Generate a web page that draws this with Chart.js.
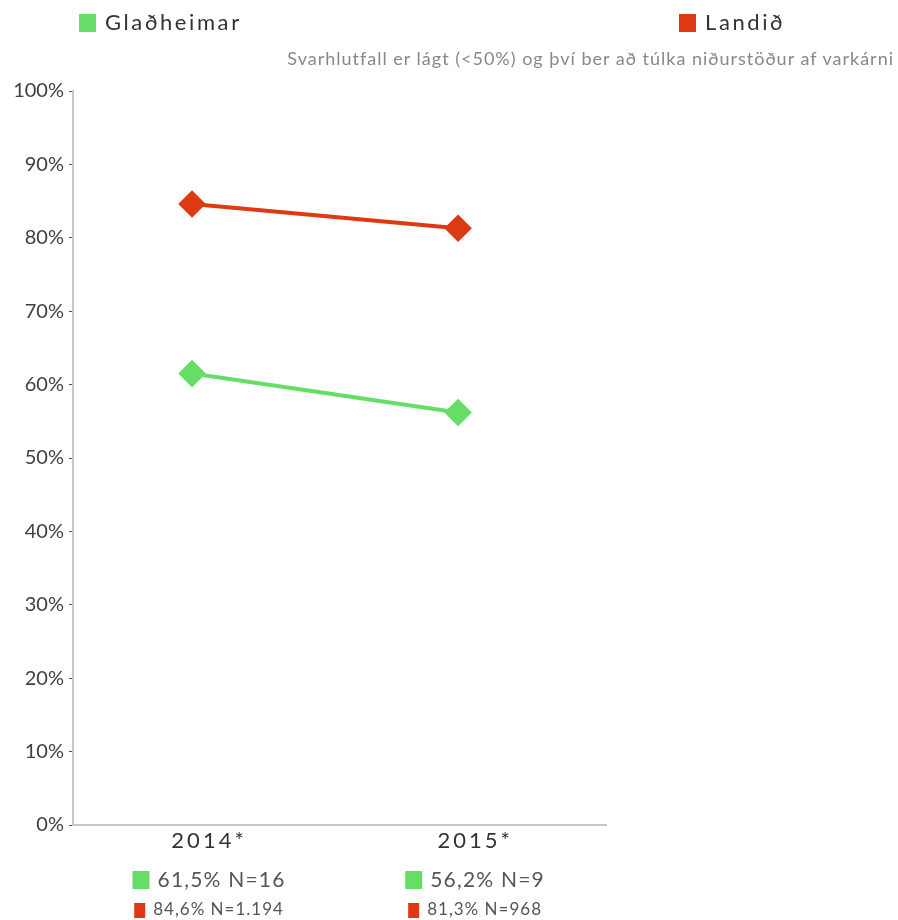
<!DOCTYPE html>
<html>
<head>
<meta charset="utf-8">
<script src="https://cdn.jsdelivr.net/npm/chart.js@4.4.0/dist/chart.umd.min.js"></script>
<style>
  body { margin: 0; background: #fff; font-family: Lato, sans-serif; }
  #wrap { position: relative; width: 898px; height: 920px; }
  .leg { position: absolute; top: 8px; font-size: 22px; color: #333; letter-spacing: 2.6px; line-height: 28px; }
  .leg span { display: inline-block; width: 17px; height: 18px; margin-right: 9px; vertical-align: -2px; }
  #note { position: absolute; top: 47px; right: 4px; font-size: 18px; letter-spacing: 1px; color: #888; white-space: nowrap; }
</style>
</head>
<body>
<div id="wrap">
  <canvas id="chart"></canvas>
  <div class="leg" style="left:79px"><span style="background:#66dd66"></span>Glaðheimar</div>
  <div class="leg" style="left:679px"><span style="background:#dd3a13"></span>Landið</div>
  <div id="note">Svarhlutfall er lágt (&lt;50%) og því ber að túlka niðurstöður af varkárni</div>
</div>
<script>
// data
const years = ['2014*', '2015*'];
const gladheimar = [61.5, 56.2];
const landid = [84.6, 81.3];
const nGladheimar = ['16', '9'];
const nLandid = ['1.194', '968'];
const yTicks = [0, 10, 20, 30, 40, 50, 60, 70, 80, 90, 100];

const green = '#66dd66';
const red = '#dd3a13';

const fmt = (v, n) => v.toFixed(1).replace('.', ',') + '% N=' + n;

// year labels + summary lines under each year
const summaryPlugin = {
  id: 'summary',
  afterDraw(chart) {
    const ctx = chart.ctx;
    const xs = chart.scales.x;
    ctx.save();
    ctx.textBaseline = 'middle';
    years.forEach((y, i) => {
      const cx = xs.getPixelForValue(i) + 17;
      // year
      ctx.textAlign = 'center';
      ctx.font = '22px Lato';
      ctx.letterSpacing = '3px';
      ctx.fillStyle = '#333';
      ctx.fillText(y, cx, 841);
      ctx.textAlign = 'left';
      // green row
      ctx.font = '21px Lato';
      ctx.letterSpacing = '1.2px';
      let t = fmt(gladheimar[i], nGladheimar[i]);
      let w = 17 + 8 + ctx.measureText(t).width;
      let x0 = cx - w / 2;
      ctx.fillStyle = green;
      ctx.fillRect(x0, 871, 17, 18);
      ctx.fillStyle = '#555';
      ctx.fillText(t, x0 + 25, 880);
      // red row
      ctx.font = '17px Lato';
      ctx.letterSpacing = '1px';
      t = fmt(landid[i], nLandid[i]);
      w = 11 + 8 + ctx.measureText(t).width;
      x0 = cx - w / 2;
      ctx.fillStyle = red;
      ctx.fillRect(x0, 903, 11, 15);
      ctx.fillStyle = '#555';
      ctx.fillText(t, x0 + 19, 910);
    });
    ctx.restore();
  }
};

new Chart(document.getElementById('chart'), {
  type: 'line',
  data: {
    datasets: [
      {
        label: 'Glaðheimar',
        data: gladheimar.map((v, i) => ({ x: i, y: v })),
        borderColor: green,
        backgroundColor: green,
        borderWidth: 4,
        pointStyle: 'rectRot',
        pointRadius: 11,
        pointHoverRadius: 11
      },
      {
        label: 'Landið',
        data: landid.map((v, i) => ({ x: i, y: v })),
        borderColor: red,
        backgroundColor: red,
        borderWidth: 4,
        pointStyle: 'rectRot',
        pointRadius: 11,
        pointHoverRadius: 11
      }
    ]
  },
  options: {
    responsive: true,
    maintainAspectRatio: false,
    animation: false,
    layout: { padding: { top: 91, right: 292, left: 0, bottom: 0 } },
    plugins: { legend: { display: false }, tooltip: { enabled: false } },
    scales: {
      x: {
        type: 'linear',
        min: -0.4475,
        max: 1.556,
        afterBuildTicks: s => { s.ticks = years.map((_, i) => ({ value: i })); },
        afterFit: s => { s.height = 95; },
        ticks: { display: false },
        grid: { display: false },
        border: { color: '#c8c8c8', width: 2 }
      },
      y: {
        min: 0,
        max: 100,
        afterBuildTicks: s => { s.ticks = yTicks.map(v => ({ value: v })); },
        afterFit: s => { s.width = 73; },
        ticks: {
          callback: v => v + '%',
          color: '#404040',
          font: { family: 'Lato', size: 20 },
          padding: 5
        },
        grid: { drawOnChartArea: false, tickLength: 4, color: '#555', tickWidth: 1 },
        border: { color: '#c8c8c8', width: 2 }
      }
    }
  },
  plugins: [summaryPlugin]
});
</script>
</body>
</html>
